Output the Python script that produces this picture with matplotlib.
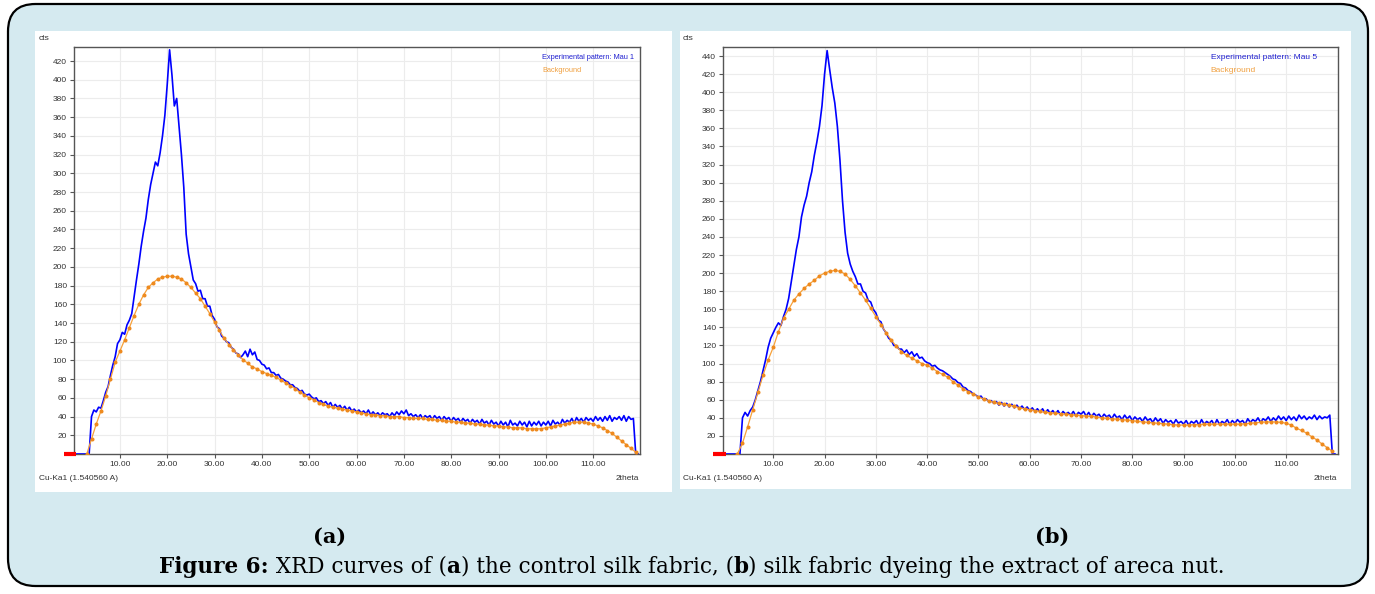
import numpy as np
import matplotlib.pyplot as plt
from matplotlib.patches import FancyBboxPatch, Rectangle

# experimental pattern, counts every 0.5 deg 2theta starting at 0
step_exp = 0.5
exp_a = [0, 0, 0, 0, 0, 0, 0, 0, 40, 47, 45, 50, 49, 57, 66, 72, 84, 95, 104, 118,
         122, 130, 128, 138, 143, 150, 168, 186, 203, 222, 238, 252, 272, 288, 300, 312, 308, 322, 340, 362,
         395, 432, 405, 372, 380, 350, 320, 285, 235, 214, 200, 186, 182, 174, 175, 166, 166, 158, 158, 148,
         144, 136, 134, 126, 124, 120, 119, 114, 112, 108, 107, 103, 106, 110, 104, 112, 106, 109, 101, 100,
         96, 95, 91, 92, 87, 87, 84, 85, 81, 80, 78, 77, 74, 74, 71, 70, 67, 68, 64, 63,
         64, 61, 59, 60, 56, 57, 54, 56, 52, 55, 50, 53, 50, 52, 48, 51, 47, 50, 46, 48,
         45, 47, 44, 46, 43, 47, 42, 45, 42, 44, 41, 44, 42, 43, 40, 44, 41, 45, 42, 46,
         43, 47, 41, 43, 40, 42, 39, 42, 38, 41, 39, 41, 37, 41, 38, 40, 36, 40, 37, 39,
         35, 39, 36, 38, 34, 38, 35, 37, 33, 37, 34, 36, 32, 37, 33, 35, 31, 36, 32, 34,
         30, 35, 31, 34, 29, 36, 31, 33, 30, 35, 31, 34, 29, 35, 30, 34, 31, 35, 30, 34,
         31, 35, 30, 36, 32, 34, 31, 37, 33, 36, 34, 38, 33, 39, 35, 38, 34, 39, 36, 38,
         35, 40, 36, 39, 35, 40, 36, 41, 35, 39, 37, 40, 36, 41, 35, 40, 37, 38, 0, 0]
exp_b = [0, 0, 0, 0, 0, 0, 0, 0, 40, 46, 42, 48, 52, 60, 70, 80, 92, 104, 118, 128,
         134, 140, 145, 142, 152, 160, 172, 190, 208, 226, 240, 262, 275, 285, 300, 312, 330, 345, 362, 385,
         420, 446, 425, 405, 388, 362, 325, 280, 245, 222, 210, 202, 196, 188, 188, 180, 178, 170, 168, 160,
         156, 148, 146, 138, 134, 128, 126, 120, 120, 116, 116, 112, 115, 110, 113, 108, 111, 106, 107, 103,
         101, 100, 97, 98, 95, 93, 92, 90, 88, 86, 83, 82, 79, 78, 74, 73, 70, 69, 66, 65,
         63, 64, 60, 61, 58, 59, 56, 58, 54, 57, 53, 56, 52, 55, 51, 54, 50, 53, 49, 52,
         48, 51, 47, 50, 46, 50, 45, 49, 45, 48, 44, 48, 43, 47, 44, 46, 43, 47, 42, 46,
         44, 47, 42, 46, 41, 45, 42, 44, 40, 44, 41, 43, 39, 44, 40, 42, 38, 43, 39, 42,
         37, 41, 38, 40, 36, 41, 37, 39, 35, 40, 36, 39, 34, 38, 35, 37, 33, 38, 34, 36,
         33, 37, 32, 36, 34, 37, 32, 38, 33, 36, 34, 37, 32, 38, 33, 36, 34, 38, 33, 37,
         34, 38, 35, 37, 33, 39, 35, 38, 36, 40, 35, 39, 37, 41, 36, 40, 37, 42, 38, 41,
         37, 42, 38, 41, 37, 43, 39, 42, 38, 41, 39, 43, 38, 42, 39, 41, 40, 43, 0, 0]

# fitted background, every 1 deg starting at 3
bg_start = 3
bg_a = [0, 16, 32, 46, 62, 80, 98,
        110, 122, 135, 148, 160, 170, 178, 183, 187, 189,
        190, 190, 189, 187, 183, 178, 172, 166, 158, 150,
        141, 132, 124, 117, 111, 106, 101, 97, 93, 91,
        88, 86, 84, 82, 79, 76, 73, 70, 66, 63,
        60, 58, 55, 53, 51, 50, 49, 48, 47, 46,
        45, 44, 43, 42, 42, 41, 41, 40, 40, 40,
        39, 39, 38, 38, 38, 37, 37, 36, 36, 35,
        35, 34, 34, 33, 33, 32, 32, 31, 31, 30,
        30, 29, 29, 28, 28, 28, 27, 27, 27, 27,
        28, 29, 30, 31, 32, 33, 34, 34, 34, 33,
        32, 30, 28, 25, 22, 18, 14, 10, 6, 2]
bg_b = [0, 12, 30, 49, 68, 87, 104,
        118, 135, 150, 160, 170, 177, 183, 188, 192, 197,
        200, 202, 203, 202, 199, 193, 186, 178, 170, 161,
        152, 143, 134, 126, 119, 113, 109, 106, 103, 100,
        98, 95, 91, 88, 85, 80, 76, 72, 69, 66,
        63, 61, 59, 57, 56, 55, 54, 53, 51, 50,
        49, 48, 47, 46, 45.5, 45, 44.5, 44, 43.5, 43,
        42.5, 42, 41.5, 41, 40, 39.5, 39, 38.5, 38, 37.5,
        37, 36, 35.5, 35, 34.5, 34, 33.5, 33, 32.5, 32,
        32, 32, 32.5, 32.5, 33, 33, 33, 33, 33, 33,
        33, 33, 33.5, 34, 34.5, 35, 35.5, 35.5, 35.5, 35,
        34, 32, 28.5, 26, 23, 19, 15.5, 11, 7, 3]

range_marker = [-1.8, 0.8]
sample_names = ['Mau 1', 'Mau 5']
panel_labels = ['(a)', '(b)']
xticks = [10, 20, 30, 40, 50, 60, 70, 80, 90, 100, 110]
caption = [('Figure 6:', 'bold'), (' XRD curves of (', 'normal'), ('a', 'bold'),
           (') the control silk fabric, (', 'normal'), ('b', 'bold'),
           (') silk fabric dyeing the extract of areca nut.', 'normal')]

fig = plt.figure(figsize=(13.75, 5.94), dpi=100)
fig.patch.set_facecolor('white')
W, H = 1375, 594

frame = FancyBboxPatch((8 / W, 8 / H), 1360 / W, 582 / H, boxstyle='round,pad=0,rounding_size=0.02',
                       transform=fig.transFigure, facecolor='#d5eaf0', edgecolor='black', lw=1.6,
                       mutation_aspect=W / H, zorder=-3)
fig.patches.append(frame)


def px_rect(x0, y0, x1, y1):
    return [x0 / W, (H - y1) / H, (x1 - x0) / W, (y1 - y0) / H]


white_boxes = [px_rect(35, 31, 672, 492), px_rect(680, 31, 1351, 489)]
axes_boxes = [px_rect(74, 47, 640, 454), px_rect(723, 47, 1338, 454)]
xlims = [(0.3, 119.9), (0.2, 120.1)]
ylims = [(0, 435), (0, 450)]
ytop = [420, 440]
legend_x = [0.827, 0.793]
legend_size = [5.3, 6.0]

for i, (exp, bg) in enumerate([(exp_a, bg_a), (exp_b, bg_b)]):
    wb = white_boxes[i]
    fig.patches.append(Rectangle((wb[0], wb[1]), wb[2], wb[3], transform=fig.transFigure,
                                 facecolor='white', edgecolor='none', zorder=-2))
    ax = fig.add_axes(axes_boxes[i])
    x_exp = np.arange(len(exp)) * step_exp
    x_bg = bg_start + np.arange(len(bg))
    ax.plot(x_exp, exp, color='#0000ff', lw=1.2, zorder=3)
    ax.plot(x_bg, bg, color='#f7a13a', lw=0.9, marker='o', ms=1.9, mfc='#ee8a1e', mec='#ee8a1e', zorder=4)
    ax.plot(range_marker, [0, 0], color='red', lw=3, clip_on=False, solid_capstyle='butt', zorder=5)
    ax.set_xlim(*xlims[i])
    ax.set_ylim(*ylims[i])
    ax.set_xticks(xticks)
    ax.set_xticklabels(['%.2f' % t for t in xticks])
    ax.set_yticks(np.arange(20, ytop[i] + 1, 20))
    ax.grid(True, color='#ececec', lw=0.8)
    ax.set_axisbelow(True)
    for s in ax.spines.values():
        s.set_color('#555555')
        s.set_linewidth(1.0)
    ax.tick_params(length=3, width=0.8, color='#555555', pad=2, labelsize=6, labelcolor='#333333')
    for lab in ax.get_xticklabels() + ax.get_yticklabels():
        lab.set_family('Liberation Sans')
    ax.text(legend_x[i], 0.975, 'Experimental pattern: ' + sample_names[i], transform=ax.transAxes,
            color='#2020d0', fontsize=legend_size[i], family='Liberation Sans', va='center', ha='left')
    ax.text(legend_x[i], 0.943, 'Background', transform=ax.transAxes,
            color='#f0a040', fontsize=legend_size[i], family='Liberation Sans', va='center', ha='left')
    left_px = 39 if i == 0 else 683
    right_px = 639 if i == 0 else 1337
    fig.text(left_px / W, 1 - 38 / H, 'cts', fontsize=6, family='Liberation Sans', color='#333333', va='center')
    fig.text(left_px / W, 1 - 479 / H, 'Cu-Ka1 (1.540560 A)', fontsize=6, family='Liberation Sans',
             color='#333333', va='center')
    fig.text(right_px / W, 1 - 479 / H, '2theta', fontsize=6, family='Liberation Sans',
             color='#333333', va='center', ha='right')

fig.text(330 / W, 1 - 537 / H, panel_labels[0], fontsize=15, family='DejaVu Serif', weight='bold',
         ha='center', va='center')
fig.text(1052 / W, 1 - 537 / H, panel_labels[1], fontsize=15, family='DejaVu Serif', weight='bold',
         ha='center', va='center')

# caption pieces laid out left to right, then the whole line centred
renderer = fig.canvas.get_renderer()
pieces = []
x = 0.0
for txt, wt in caption:
    t = fig.text(x, 1 - 567 / H, txt, fontsize=15.5, family='DejaVu Serif', weight=wt,
                 ha='left', va='center')
    w = t.get_window_extent(renderer).width / W
    pieces.append((t, x))
    x += w
start = 692 / W - x / 2
for t, off in pieces:
    t.set_x(start + off)

fig.savefig('out.png', dpi=100)
